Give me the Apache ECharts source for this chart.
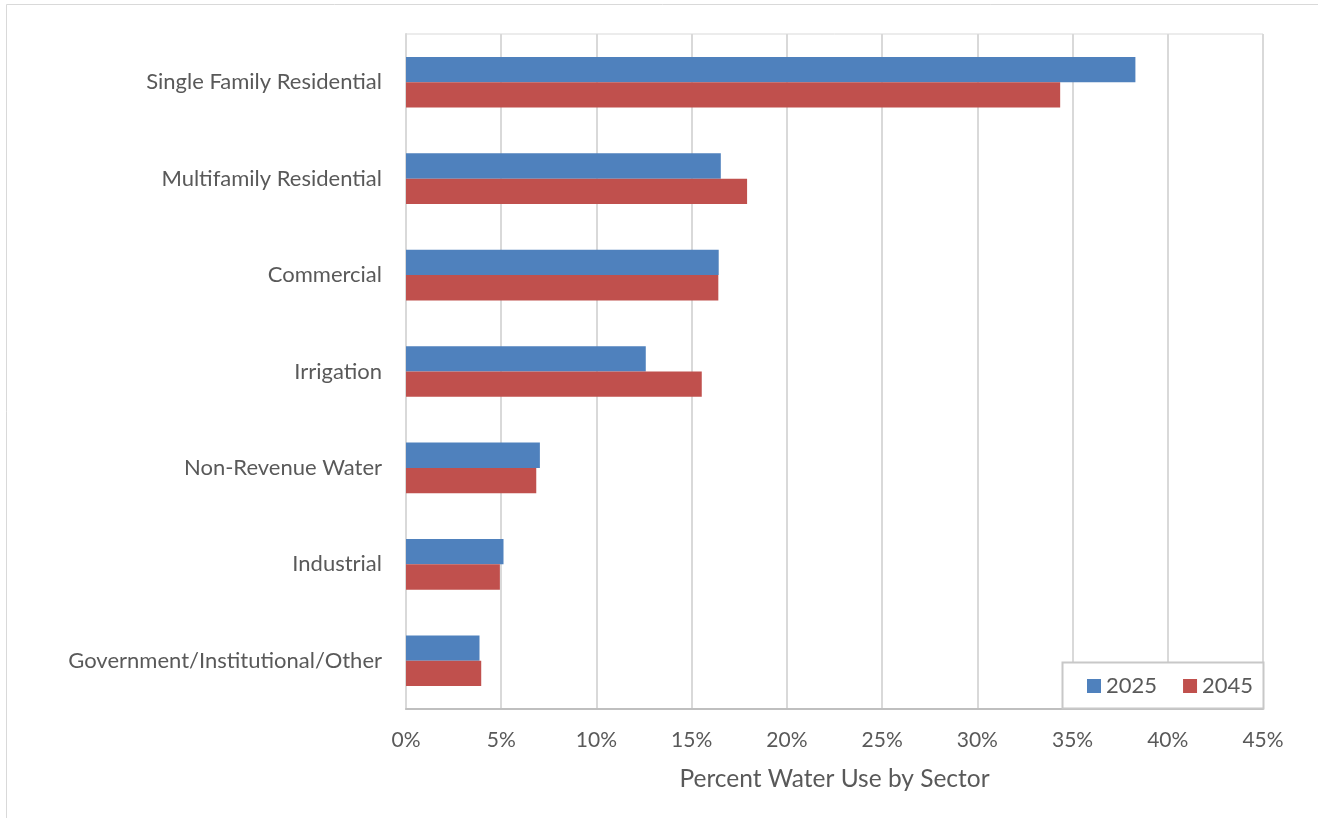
<!DOCTYPE html>
<html><head><meta charset="utf-8">
<script src="https://cdn.jsdelivr.net/npm/echarts@6/dist/echarts.min.js"></script>
<style>html,body{margin:0;padding:0;background:#fff}#c{width:1318px;height:818px}</style>
</head><body><div id="c"></div>
<script>
const categories = ["Single Family Residential","Multifamily Residential","Commercial","Irrigation","Non-Revenue Water","Industrial","Government/Institutional/Other"];
const values2025 = [38.3, 16.53, 16.42, 12.59, 7.03, 5.12, 3.86];
const values2045 = [34.35, 17.91, 16.40, 15.53, 6.84, 4.93, 3.95];
const seriesNames = ["2025","2045"];
const xTicks = [0,5,10,15,20,25,30,35,40,45];

const FONT = "Lato";
const chart = echarts.init(document.getElementById('c'));
chart.setOption({
  animation:false,
  textStyle:{fontFamily:FONT},
  grid:{left:406,right:55,top:34,bottom:109,show:true,borderColor:'#d9d9d9',borderWidth:1,containLabel:false},
  xAxis:{type:'value',min:xTicks[0],max:xTicks[xTicks.length-1],interval:5,
    axisLine:{show:true,lineStyle:{color:'#bfbfbf',width:2}},
    axisTick:{show:false},
    splitLine:{show:true,lineStyle:{color:'#d9d9d9',width:2}},
    axisLabel:{formatter:v=>v+'%',color:'#595959',fontSize:21,margin:21,fontFamily:FONT},
    name:'Percent Water Use by Sector',nameLocation:'middle',nameGap:58,
    nameTextStyle:{color:'#595959',fontSize:24.5,fontFamily:FONT}},
  yAxis:{type:'category',data:categories,inverse:true,
    axisLine:{show:true,lineStyle:{color:'#d9d9d9',width:2}},
    axisTick:{show:false},
    axisLabel:{color:'#595959',fontSize:22,margin:24,fontFamily:FONT}},
  legend:{left:1082,top:670,itemWidth:14,itemHeight:14,itemGap:26,icon:'rect',z:5,
    textStyle:{color:'#595959',fontSize:22,fontFamily:FONT},data:seriesNames},
  graphic:[
    {type:'rect',shape:{x:6.5,y:4.5,width:1400,height:1000},style:{fill:null,stroke:'#d9d9d9',lineWidth:1},z:-10,silent:true},
    {type:'rect',shape:{x:1062.5,y:662.5,width:201,height:46},style:{fill:'#fff',stroke:'#c8c8c8',lineWidth:2},z:4,silent:true}
  ],
  series:[
    {name:seriesNames[0],type:'bar',data:values2025,itemStyle:{color:'#4F81BD'},barGap:'0%',barCategoryGap:'47.5%'},
    {name:seriesNames[1],type:'bar',data:values2045,itemStyle:{color:'#C0504D'},barGap:'0%',barCategoryGap:'47.5%'}
  ]
});
</script></body></html>
